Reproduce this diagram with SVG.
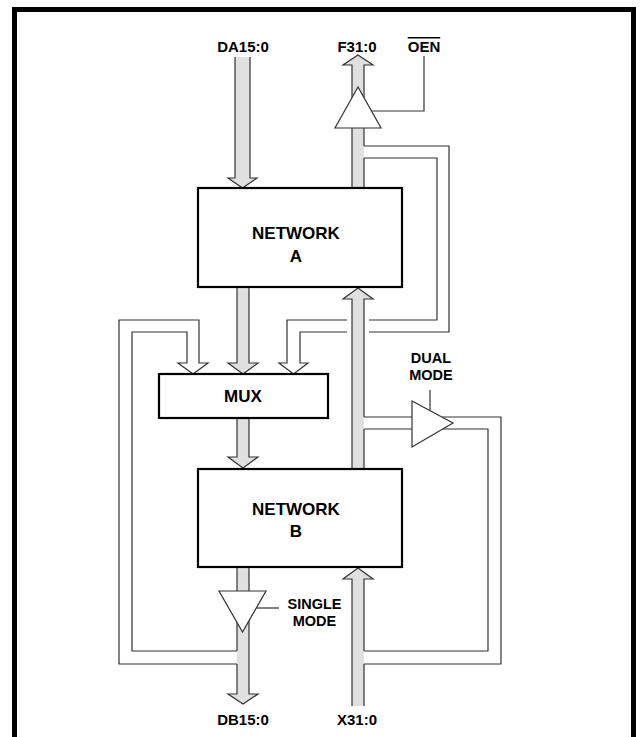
<svg xmlns="http://www.w3.org/2000/svg" width="640" height="737" viewBox="0 0 640 737">
<style>
.fill{fill:#e0e0e0;stroke:none}
.edge{fill:none;stroke:#333;stroke-width:1.2;stroke-linejoin:miter}
.wire{fill:none;stroke:#333;stroke-width:1.2}
.box{fill:#fff;stroke:#000;stroke-width:2.2}
.buf{fill:#fff;stroke:#333;stroke-width:1.2}
.lbl{font-family:"Liberation Sans",Arial,sans-serif;font-weight:bold;font-size:15px;fill:#000;text-anchor:middle}
.big{font-size:17px}
.sm{font-size:14.5px}
</style>
<rect x="14.5" y="9.5" width="619" height="760" fill="none" stroke="#000" stroke-width="5"/>
<g id="connectors">
  <!-- DA15:0 input -->
  <path class="fill" d="M235,57 V178 H228 L242.5,188 L257,178 H250 V57 Z"/>
  <path class="edge" d="M235,57 V178 H228 L242.5,188 L257,178 H250 V57"/>
  <!-- F31:0 output -->
  <path class="fill" d="M352,188 V65 H343 L358,55 L373,65 H364 V188 Z"/>
  <path class="edge" d="M352,188 V65 H343 L358,55 L373,65 H364 V146 M364,158 V188"/>
  <!-- Network A to MUX -->
  <path class="fill" d="M237,287 V363 H228 L243,374 L258,363 H249 V287 Z"/>
  <path class="edge" d="M237,287 V363 H228 L243,374 L258,363 H249 V287"/>
  <!-- MUX to Network B -->
  <path class="fill" d="M237,418 V457 H228 L243,468 L258,457 H249 V418 Z"/>
  <path class="edge" d="M237,418 V457 H228 L243,468 L258,457 H249 V418"/>
  <!-- Network B to DB15:0 -->
  <path class="fill" d="M237,567 V694 H228 L243,704 L258,694 H249 V567 Z"/>
  <path class="edge" d="M237,567 V651 M237,664 V694 H228 L243,704 L258,694 H249 V567"/>
  <!-- X31:0 input to Network B -->
  <path class="fill" d="M352,706 V579 H343 L358,568 L373,579 H364 V706 Z"/>
  <path class="edge" d="M352,706 V579 H343 L358,568 L373,579 H364 V651 M364,664 V706"/>
  <!-- Network B to Network A -->
  <path class="fill" d="M352,469 V299 H343 L358,288 L373,299 H364 V469 Z"/>
  <path class="edge" d="M352,469 V299 H343 L358,288 L373,299 H364 V417 M364,429 V469"/>
  <!-- F feedback to MUX right input -->
  <path class="wire" d="M364,146 H449 V332 H369 M347,332 H300 V363 H308 L293.5,374 L279,363 H287 V320 H347 M369,320 H437 V158 H364"/>
  <!-- DB feedback to MUX left input -->
  <path class="wire" d="M237,651 H132 V332 H187 V363 H178 L193,374 L208,363 H199 V320 H119 V664 H237"/>
  <!-- Dual mode loop -->
  <path class="wire" d="M364,417 H412 M364,429 H412 M442,417 H501 V664 H364 M443,429 H488 V651 H364"/>
  <!-- control lines -->
  <path class="wire" d="M371.5,111 H424 V56"/>
  <path class="wire" d="M430,390 V411"/>
  <path class="wire" d="M256.3,608 H279"/>
</g>
<g id="networkA">
  <rect class="box" x="198" y="188" width="204" height="99"/>
  <text class="lbl big" x="296" y="239">NETWORK</text>
  <text class="lbl big" x="296" y="262">A</text>
</g>
<g id="mux">
  <rect class="box" x="159" y="374" width="169" height="44"/>
  <text class="lbl big" x="243" y="402">MUX</text>
</g>
<g id="networkB">
  <rect class="box" x="198" y="469" width="204" height="98"/>
  <text class="lbl big" x="296" y="515">NETWORK</text>
  <text class="lbl big" x="296" y="537">B</text>
</g>
<g id="oenBuffer">
  <polygon class="buf" points="358,87 335,128 381,128"/>
</g>
<g id="dualBuffer">
  <polygon class="buf" points="412,401 412,447 453,423"/>
  <text class="lbl sm" x="431" y="363">DUAL</text>
  <text class="lbl sm" x="431" y="379.5">MODE</text>
</g>
<g id="singleBuffer">
  <polygon class="buf" points="219,591 266,591 242.5,632"/>
  <text class="lbl sm" x="314.5" y="609">SINGLE</text>
  <text class="lbl sm" x="314.5" y="625.5">MODE</text>
</g>
<g id="pins">
  <text class="lbl" x="243" y="52">DA15:0</text>
  <text class="lbl" x="357" y="52">F31:0</text>
  <text class="lbl" x="424" y="52" text-decoration="overline">OEN</text>
  <text class="lbl" x="243" y="725">DB15:0</text>
  <text class="lbl" x="357" y="725">X31:0</text>
</g>
</svg>
